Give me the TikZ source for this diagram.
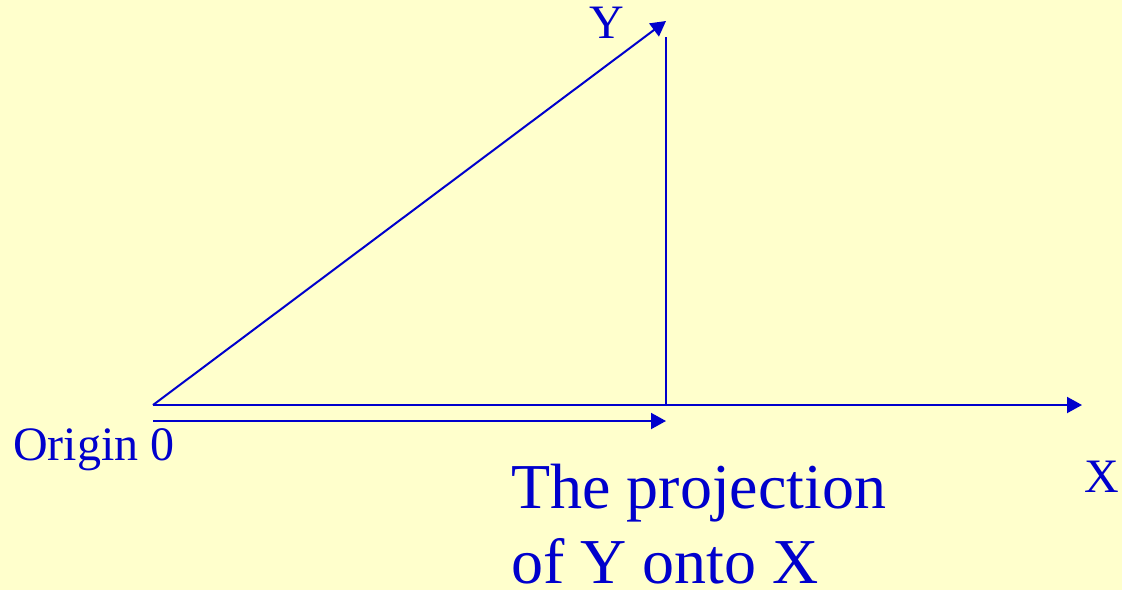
\documentclass[tikz,border=0pt]{standalone}
\usepackage{fontspec}
\setmainfont{Liberation Serif}
\usetikzlibrary{arrows.meta}
\definecolor{bg}{HTML}{FFFFCC}
\definecolor{ink}{HTML}{0000CC}
\begin{document}
\begin{tikzpicture}[x=0.75pt,y=-0.75pt,
  vec/.style={draw=ink,line width=1.5pt,-{Triangle[length=11.25pt,width=12pt]}},
  seg/.style={draw=ink,line width=1.5pt},
  lbl/.style={text=ink,inner sep=0pt,font=\fontsize{36}{40}\selectfont},
  big/.style={text=ink,inner sep=0pt,font=\fontsize{48}{56}\selectfont}]
\fill[bg] (0,0) rectangle (1122,590);
\useasboundingbox (0,0) rectangle (1122,590);
\coordinate (O) at (153,405);
\coordinate (Ytip) at (666,21);
\coordinate (Vtop) at (666,37);
\coordinate (Foot) at (666,405);
\coordinate (Xtip) at (1082,405);
\coordinate (P0) at (153,421);
\coordinate (P1) at (666,421);
\draw[vec] (O) -- (Ytip);
\draw[seg] (Vtop) -- (Foot);
\draw[vec] (O) -- (Xtip);
\draw[vec] (P0) -- (P1);
\node[lbl,anchor=base] (ylab) at (607,38) {Y};
\node[lbl,anchor=base west] (olab) at (13,460) {Origin 0};
\node[lbl,anchor=base] (xlab) at (1102,492) {X};
\node[big,anchor=base west] (proj1) at (511,508) {The projection};
\node[big,anchor=base west] (proj2) at (511,583) {of Y onto X};
\end{tikzpicture}
\end{document}
